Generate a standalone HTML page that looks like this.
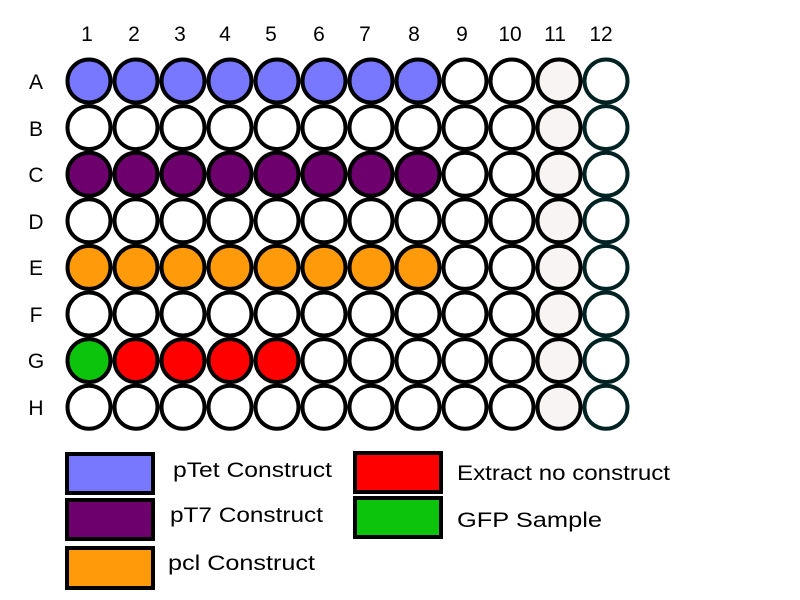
<!DOCTYPE html>
<html><head><style>body{margin:0;background:#fff}svg{display:block}</style></head><body>
<svg width="800" height="600" xmlns="http://www.w3.org/2000/svg" font-family="Liberation Sans, sans-serif">
<g font-size="21" text-anchor="middle" fill="#000">
<text x="87" y="41">1</text><text x="134" y="41">2</text><text x="180" y="41">3</text><text x="225" y="41">4</text><text x="271" y="41">5</text><text x="319" y="41">6</text><text x="365" y="41">7</text><text x="414" y="41">8</text><text x="462" y="41">9</text><text x="510" y="41">10</text><text x="555" y="41">11</text><text x="601" y="41">12</text>
<text x="36" y="89">A</text><text x="36" y="136">B</text><text x="36" y="182">C</text><text x="36" y="229">D</text><text x="36" y="275">E</text><text x="36" y="322">F</text><text x="36" y="368">G</text><text x="36" y="415">H</text>
</g>
<g id="wells" stroke="#000" stroke-width="4"></g>
<g stroke="#000" stroke-width="4">
<rect x="67" y="454" width="86" height="39" fill="#7878ff"/>
<rect x="67" y="500" width="86" height="39" fill="#6e006e"/>
<rect x="67" y="548" width="86" height="40" fill="#ff9a0a"/>
<rect x="355" y="453" width="86" height="39" fill="#ff0000"/>
<rect x="355" y="498" width="86" height="39" fill="#0cc40c"/>
</g>
<g font-size="21" fill="#000">
<text x="173" y="477" textLength="159" lengthAdjust="spacingAndGlyphs">pTet Construct</text>
<text x="170" y="522" textLength="153" lengthAdjust="spacingAndGlyphs">pT7 Construct</text>
<text x="168" y="570" textLength="147" lengthAdjust="spacingAndGlyphs">pcl Construct</text>
<text x="457" y="480" textLength="213" lengthAdjust="spacingAndGlyphs">Extract no construct</text>
<text x="457" y="527" textLength="145" lengthAdjust="spacingAndGlyphs">GFP Sample</text>
</g>
</svg>
<script>
var g=document.getElementById('wells'),s='';
var rows=[['#7878ff',8],[null,0],['#6e006e',8],[null,0],['#ff9a0a',8],[null,0],['g',0],[null,0]];
for(var r=0;r<8;r++)for(var c=0;c<12;c++){
var x=89+c*47,y=81+r*46.6,f='#fff',st='#000';
if(c<rows[r][1])f=rows[r][0];
if(r==6){if(c==0)f='#0cc40c';else if(c<5)f='#ff0000';}
if(c==10)f='#f8f4f4';
if(c==11)st='#022';
s+='<circle cx="'+x+'" cy="'+y+'" r="21.5" fill="'+f+'" stroke="'+st+'"/>';}
g.innerHTML=s;
</script>
</body></html>
